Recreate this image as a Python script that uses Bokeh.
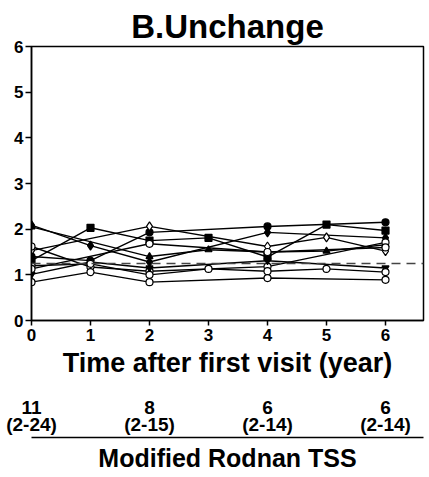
from bokeh.plotting import figure
from bokeh.models import Range1d, Span, FixedTicker, LinearAxis
from bokeh.embed import file_html
from bokeh.resources import INLINE

# ---- data ----
title_text = "B.Unchange"
x_label = "Time after first visit (year)"
threshold = 1.25

s1_x = [0, 1, 2, 4, 6]; s1_y = [1.40, 1.31, 1.93, 2.06, 2.15]
s2_x = [0, 1, 2, 3, 4, 5, 6]; s2_y = [1.31, 2.03, 1.75, 1.81, 1.39, 2.10, 1.97]
s3_x = [0, 1, 2, 4, 6]; s3_y = [2.09, 1.64, 1.28, 1.93, 1.81]
s4_x = [0, 2, 3, 4, 5, 6]; s4_y = [2.05, 1.40, 1.55, 1.50, 1.52, 1.66]
s5_x = [0, 2, 4, 5, 6]; s5_y = [1.53, 2.06, 1.62, 1.82, 1.52]
s6_x = [0, 1, 2, 4, 6]; s6_y = [1.62, 1.17, 1.08, 1.18, 1.71]
s7_x = [0, 1, 2, 4, 6]; s7_y = [1.01, 1.28, 1.15, 1.31, 1.15]
s8_x = [0, 1, 2, 3, 4, 5, 6]; s8_y = [1.20, 1.24, 1.00, 1.13, 1.08, 1.13, 1.06]
s9_x = [0, 1, 2, 4, 6]; s9_y = [0.84, 1.06, 0.84, 0.93, 0.89]
s10_x = [0, 2, 4, 6]; s10_y = [1.13, 1.68, 1.50, 1.60]

series = [
    (s1_x, s1_y, "circle", True),
    (s2_x, s2_y, "square", True),
    (s3_x, s3_y, "diamond", True),
    (s4_x, s4_y, "triangle", True),
    (s5_x, s5_y, "diamond", False),
    (s6_x, s6_y, "circle", False),
    (s7_x, s7_y, "inverted_triangle", True),
    (s8_x, s8_y, "circle", False),
    (s9_x, s9_y, "circle", False),
    (s10_x, s10_y, "circle", False),
]

tss_years = [0, 2, 4, 6]
tss_median = ["11", "8", "6", "6"]
tss_range = ["(2-24)", "(2-15)", "(2-14)", "(2-14)"]
tss_title = "Modified Rodnan TSS"

# ---- layout ----
W, H = 429, 477
LEFT, RIGHT, TOP = 31, 6, 46
FRAME_BOTTOM = 320
X_END = 6.644
FONT = "Liberation Sans"

p = figure(width=W, height=H, x_range=Range1d(0, X_END), y_range=Range1d(0, 6),
           toolbar_location=None, output_backend="svg",
           min_border_left=LEFT, min_border_right=RIGHT, min_border_top=TOP,
           min_border_bottom=H - FRAME_BOTTOM)
p.title.text = title_text
p.title.align = "center"
p.title.text_font = FONT
p.title.text_font_size = "33px"
p.title.text_font_style = "bold"
p.title.text_color = "black"
p.title.standoff = 4

p.grid.visible = False
p.outline_line_color = "black"
p.outline_line_width = 1.5

for ax in (p.xaxis[0], p.yaxis[0]):
    ax.ticker = FixedTicker(ticks=[0, 1, 2, 3, 4, 5, 6])
    ax.minor_tick_line_color = None
    ax.axis_line_color = "black"
    ax.axis_line_width = 1.5
    ax.major_tick_line_width = 1.5
    ax.major_tick_in = 0
    ax.major_tick_out = 6
    ax.major_label_text_font = FONT
    ax.major_label_text_font_style = "bold"
    ax.major_label_text_font_size = "17px"
    ax.major_label_text_color = "black"
p.yaxis.major_label_standoff = 2
p.xaxis.major_tick_out = 5
p.xaxis.major_label_standoff = 3
p.xaxis.axis_label = x_label
p.xaxis.axis_label_text_font = FONT
p.xaxis.axis_label_text_font_style = "bold"
p.xaxis.axis_label_text_font_size = "27px"
p.xaxis.axis_label_text_color = "black"
p.xaxis.axis_label_standoff = 4


def table_axis(labels, standoff, size):
    ax = LinearAxis(ticker=FixedTicker(ticks=tss_years),
                    major_label_overrides={t: s for t, s in zip(tss_years, labels)})
    ax.axis_line_color = None
    ax.major_tick_line_color = None
    ax.major_tick_out = 0
    ax.major_tick_in = 0
    ax.minor_tick_line_color = None
    ax.major_label_standoff = standoff
    ax.major_label_text_font = FONT
    ax.major_label_text_font_style = "bold"
    ax.major_label_text_font_size = size
    ax.major_label_text_color = "black"
    return ax


p.add_layout(table_axis(tss_median, 20, "19px"), "below")
p.add_layout(table_axis(tss_range, -3, "19px"), "below")

title_axis = LinearAxis(ticker=FixedTicker(ticks=[]))
title_axis.axis_line_color = "black"
title_axis.axis_line_width = 1.5
title_axis.major_tick_line_color = None
title_axis.minor_tick_line_color = None
title_axis.axis_label = tss_title
title_axis.axis_label_text_font = FONT
title_axis.axis_label_text_font_style = "bold"
title_axis.axis_label_text_font_size = "25px"
title_axis.axis_label_text_color = "black"
title_axis.axis_label_standoff = 6
p.add_layout(title_axis, "below")

p.add_layout(Span(location=threshold, dimension="width", line_color="#444444",
                  line_width=1.5, line_dash="9 6"))

for xs, ys, marker, filled in series:
    p.line(xs, ys, line_color="black", line_width=1.4)
for xs, ys, marker, filled in series:
    size = 9 if marker == "diamond" else 7
    p.scatter(xs, ys, marker=marker, size=size, line_color="black", line_width=1.2,
              fill_color="black" if filled else "white")

open("out.html", "w").write(file_html(p, INLINE))
